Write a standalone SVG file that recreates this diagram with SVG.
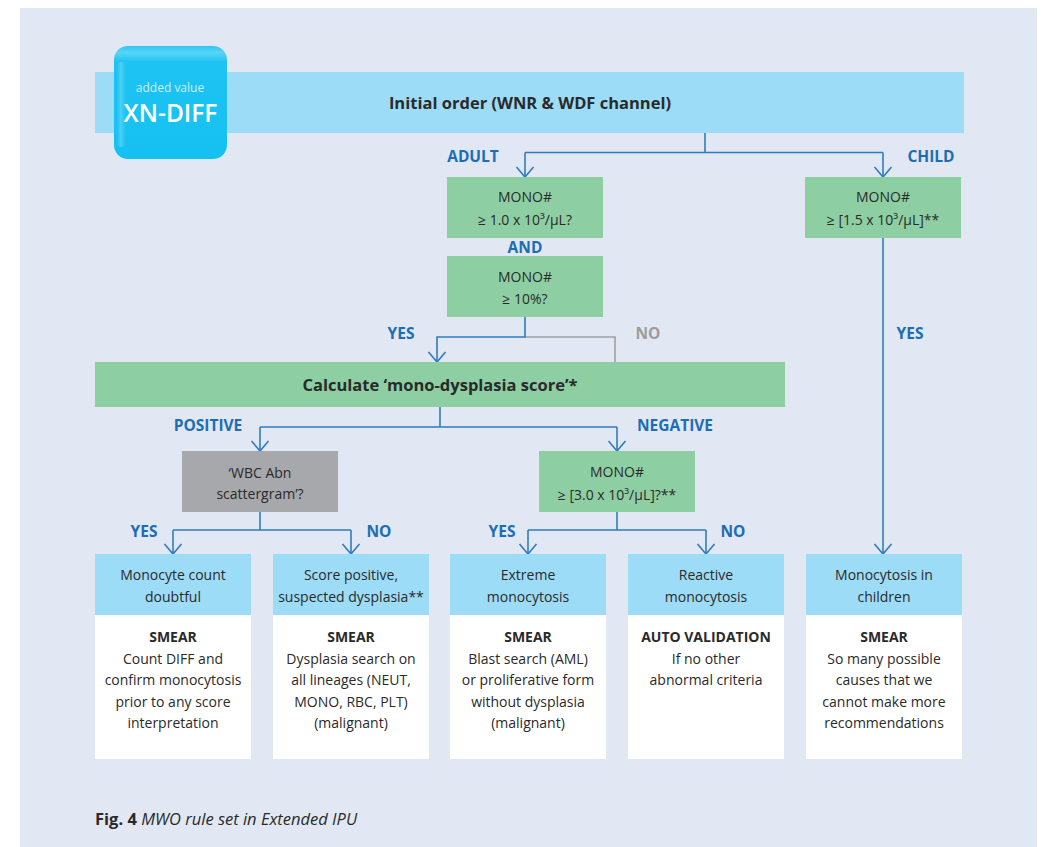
<svg xmlns="http://www.w3.org/2000/svg" width="1042" height="847" viewBox="0 0 1042 847">
  <defs>
    <style>
      .t { font-family: "Open Sans", "Noto Sans", sans-serif; fill: #2a2a2a; font-size: 14px; text-anchor: middle; }
      .b { font-weight: 700; }
      .title { font-family: "Open Sans", "Noto Sans", sans-serif; fill: #2a2a2a; font-size: 16.5px; font-weight: 700; text-anchor: middle; }
      .lbl { font-family: "Open Sans", "Noto Sans", sans-serif; fill: #1c6db5; font-size: 15.5px; font-weight: 700; text-anchor: middle; }
      .lblg { fill: #9c9c9c; }
      .green { fill: #8dcfa3; }
      .lblue { fill: #9ddcf7; }
      .white { fill: #ffffff; }
      .grey { fill: #a7a8ab; }
      .conn { fill: none; stroke: #2f7bbf; stroke-width: 1.6; }
      .connG { fill: none; stroke: #a0a0a0; stroke-width: 1.6; }
    </style>
    <marker id="arr" markerUnits="userSpaceOnUse" markerWidth="24" markerHeight="24" viewBox="-12 -12 24 24" refX="0" refY="0" orient="auto">
      <path d="M-10,-8.5 L0,0 L-10,8.5" fill="none" stroke="#2f7bbf" stroke-width="1.6"/>
    </marker>
    <linearGradient id="badgeG" x1="0" y1="0" x2="0" y2="1">
      <stop offset="0" stop-color="#2ec9f4"/>
      <stop offset="0.06" stop-color="#58d4f6"/>
      <stop offset="0.14" stop-color="#1ec3f2"/>
      <stop offset="1" stop-color="#15c1f1"/>
    </linearGradient>
    <linearGradient id="badgeL" x1="0" y1="0" x2="1" y2="0">
      <stop offset="0" stop-color="#ffffff" stop-opacity="0"/>
      <stop offset="0.4" stop-color="#ffffff" stop-opacity="0.22"/>
      <stop offset="1" stop-color="#ffffff" stop-opacity="0"/>
    </linearGradient>
  </defs>

  <rect x="20" y="8" width="1017" height="839" fill="#e1e8f4"/>

  <g id="initial-order">
    <rect x="95" y="72" width="869" height="61" class="lblue"/>
    <text x="530" y="109" class="title">Initial order (WNR &amp; WDF channel)</text>
  </g>

  <g id="badge">
    <rect x="114" y="46" width="113" height="113" rx="14" fill="url(#badgeG)"/>
    <rect x="117" y="62" width="9" height="85" rx="4" fill="url(#badgeL)"/>
    <text x="170" y="92" font-family="Open Sans, Noto Sans, sans-serif" font-size="12" fill="#cdeffb" text-anchor="middle">added value</text>
    <text x="170.5" y="121.5" font-family="Open Sans, Noto Sans, sans-serif" font-size="24.5" font-weight="600" fill="#ffffff" text-anchor="middle">XN-DIFF</text>
  </g>

  <g id="connectors">
    <path class="conn" d="M705,133 V152.5"/>
    <path class="conn" d="M525,152.5 H883"/>
    <path class="conn" d="M525,152.5 V177" marker-end="url(#arr)"/>
    <path class="conn" d="M883,152.5 V177" marker-end="url(#arr)"/>
    <path class="connG" d="M525,337 H615 V362"/>
    <path class="conn" d="M525,317 V337 H437 V362" marker-end="url(#arr)"/>
    <path class="conn" d="M440,407 V427"/>
    <path class="conn" d="M260,427 H617"/>
    <path class="conn" d="M260,427 V451" marker-end="url(#arr)"/>
    <path class="conn" d="M617,427 V451" marker-end="url(#arr)"/>
    <path class="conn" d="M260,512 V530"/>
    <path class="conn" d="M173,530 H351"/>
    <path class="conn" d="M173,530 V554" marker-end="url(#arr)"/>
    <path class="conn" d="M351,530 V554" marker-end="url(#arr)"/>
    <path class="conn" d="M617,512 V530"/>
    <path class="conn" d="M528,530 H706"/>
    <path class="conn" d="M528,530 V554" marker-end="url(#arr)"/>
    <path class="conn" d="M706,530 V554" marker-end="url(#arr)"/>
    <path class="conn" d="M883,238 V554" marker-end="url(#arr)"/>
  </g>

  <g id="labels">
    <text x="473" y="161.5" class="lbl">ADULT</text>
    <text x="931" y="161.5" class="lbl">CHILD</text>
    <text x="525" y="253" class="lbl">AND</text>
    <text x="401" y="339" class="lbl">YES</text>
    <text x="648" y="339" class="lbl lblg">NO</text>
    <text x="910" y="339" class="lbl">YES</text>
    <text x="208" y="430.5" class="lbl">POSITIVE</text>
    <text x="675" y="430.5" class="lbl">NEGATIVE</text>
    <text x="144" y="536.5" class="lbl">YES</text>
    <text x="379" y="536.5" class="lbl">NO</text>
    <text x="502" y="536.5" class="lbl">YES</text>
    <text x="733" y="536.5" class="lbl">NO</text>
  </g>

  <g id="mono-adult">
    <rect x="447" y="177" width="156" height="61" class="green"/>
    <text x="525" y="202" class="t">MONO#</text>
    <text x="525" y="225" class="t">≥ 1.0 x 10³/µL?</text>
  </g>

  <g id="mono-pct">
    <rect x="447" y="256" width="156" height="61" class="green"/>
    <text x="525" y="282" class="t">MONO#</text>
    <text x="525" y="304" class="t">≥ 10%?</text>
  </g>

  <g id="mono-child">
    <rect x="805" y="177" width="156" height="61" class="green"/>
    <text x="883" y="202" class="t">MONO#</text>
    <text x="883" y="225" class="t">≥ [1.5 x 10³/µL]**</text>
  </g>

  <g id="calc-score">
    <rect x="95" y="362" width="690" height="45" class="green"/>
    <text x="440" y="390.5" class="title">Calculate ‘mono-dysplasia score’*</text>
  </g>

  <g id="wbc-abn">
    <rect x="182" y="451" width="156" height="61" class="grey"/>
    <text x="260" y="478" class="t">‘WBC Abn</text>
    <text x="260" y="499" class="t">scattergram’?</text>
  </g>

  <g id="mono-neg">
    <rect x="539" y="451" width="156" height="61" class="green"/>
    <text x="617" y="477" class="t">MONO#</text>
    <text x="617" y="500" class="t">≥ [3.0 x 10³/µL]?**</text>
  </g>

  <g id="out-doubtful">
    <rect x="95" y="554" width="156" height="61" class="lblue"/>
    <rect x="95" y="615" width="156" height="144" class="white"/>
    <text x="173" y="580" class="t">Monocyte count</text>
    <text x="173" y="602" class="t">doubtful</text>
    <text x="173" y="642" class="t b">SMEAR</text>
    <text x="173" y="664" class="t">Count DIFF and</text>
    <text x="173" y="685" class="t">confirm monocytosis</text>
    <text x="173" y="706.5" class="t">prior to any score</text>
    <text x="173" y="727.5" class="t">interpretation</text>
  </g>

  <g id="out-dysplasia">
    <rect x="273" y="554" width="156" height="61" class="lblue"/>
    <rect x="273" y="615" width="156" height="144" class="white"/>
    <text x="351" y="580" class="t">Score positive,</text>
    <text x="351" y="602" class="t">suspected dysplasia**</text>
    <text x="351" y="642" class="t b">SMEAR</text>
    <text x="351" y="664" class="t">Dysplasia search on</text>
    <text x="351" y="685" class="t">all lineages (NEUT,</text>
    <text x="351" y="706.5" class="t">MONO, RBC, PLT)</text>
    <text x="351" y="727.5" class="t">(malignant)</text>
  </g>

  <g id="out-extreme">
    <rect x="450" y="554" width="156" height="61" class="lblue"/>
    <rect x="450" y="615" width="156" height="144" class="white"/>
    <text x="528" y="580" class="t">Extreme</text>
    <text x="528" y="602" class="t">monocytosis</text>
    <text x="528" y="642" class="t b">SMEAR</text>
    <text x="528" y="664" class="t">Blast search (AML)</text>
    <text x="528" y="685" class="t">or proliferative form</text>
    <text x="528" y="706.5" class="t">without dysplasia</text>
    <text x="528" y="727.5" class="t">(malignant)</text>
  </g>

  <g id="out-reactive">
    <rect x="628" y="554" width="156" height="61" class="lblue"/>
    <rect x="628" y="615" width="156" height="144" class="white"/>
    <text x="706" y="580" class="t">Reactive</text>
    <text x="706" y="602" class="t">monocytosis</text>
    <text x="706" y="642" class="t b">AUTO VALIDATION</text>
    <text x="706" y="664" class="t">If no other</text>
    <text x="706" y="685" class="t">abnormal criteria</text>
  </g>

  <g id="out-children">
    <rect x="806" y="554" width="156" height="61" class="lblue"/>
    <rect x="806" y="615" width="156" height="144" class="white"/>
    <text x="884" y="580" class="t">Monocytosis in</text>
    <text x="884" y="602" class="t">children</text>
    <text x="884" y="642" class="t b">SMEAR</text>
    <text x="884" y="664" class="t">So many possible</text>
    <text x="884" y="685" class="t">causes that we</text>
    <text x="884" y="706.5" class="t">cannot make more</text>
    <text x="884" y="727.5" class="t">recommendations</text>
  </g>

  <g id="caption">
    <text x="95" y="825" font-family="Open Sans, Noto Sans, sans-serif" font-size="16.5" fill="#2a2a2a"><tspan font-weight="700">Fig. 4</tspan> <tspan font-style="italic">MWO rule set in Extended IPU</tspan></text>
  </g>
</svg>
